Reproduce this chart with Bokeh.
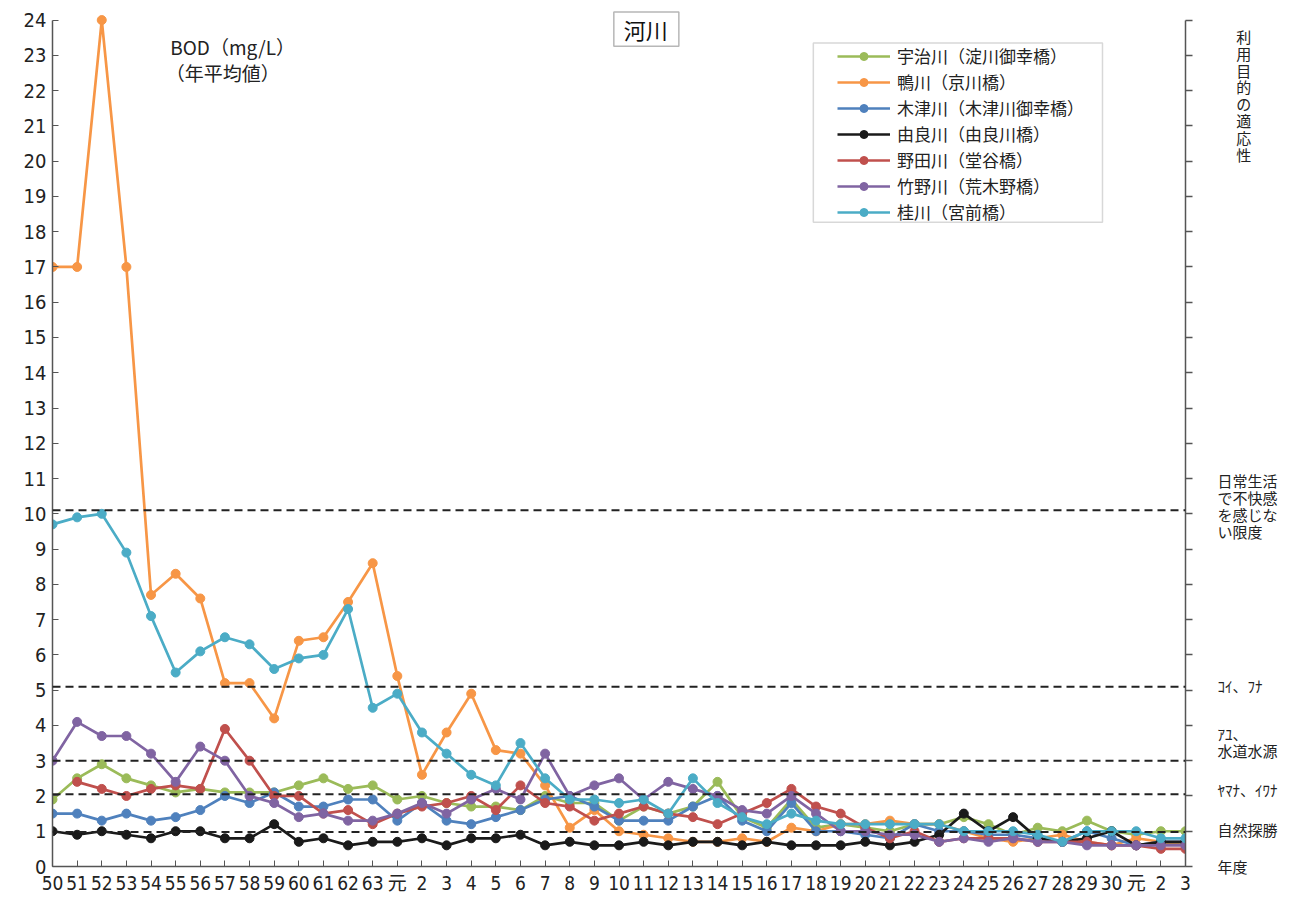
import math
from bokeh.plotting import figure
from bokeh.models import (Range1d, FixedTicker, LinearAxis, Span, Label,
                          BoxAnnotation)
from bokeh.embed import file_html
from bokeh.resources import INLINE

# ---- data ----
years = ([str(y) for y in range(50, 64)] + ["元"] +
         [str(y) for y in range(2, 31)] + ["元", "2", "3"])

uji = [1.9, 2.5, 2.9, 2.5, 2.3, 2.1, 2.2, 2.1, 2.1, 2.1, 2.3, 2.5, 2.2, 2.3,
       1.9,
       2.0, 1.8, 1.7, 1.7, 1.6, 2.0, 1.8, 1.8, 1.3, 1.7, 1.5, 1.7, 2.4, 1.4, 1.1,
       1.9, 1.1, 1.2, 1.1, 1.0, 1.2, 1.2, 1.4, 1.2, 0.9, 1.1, 1.0, 1.3, 1.0,
       0.9, 1.0, 1.0]
kamo = [17, 17, 24, 17, 7.7, 8.3, 7.6, 5.2, 5.2, 4.2, 6.4, 6.5, 7.5, 8.6,
        5.4,
        2.6, 3.8, 4.9, 3.3, 3.2, 2.3, 1.1, 1.6, 1.0, 0.9, 0.8, 0.7, 0.7, 0.8, 0.7,
        1.1, 1.0, 1.2, 1.2, 1.3, 1.2, 1.2, 1.0, 0.8, 0.7, 0.8, 0.9, 0.7, 0.6,
        0.8, 0.7, 0.6]
kizu = [1.5, 1.5, 1.3, 1.5, 1.3, 1.4, 1.6, 2.0, 1.8, 2.1, 1.7, 1.7, 1.9, 1.9,
        1.3,
        1.8, 1.3, 1.2, 1.4, 1.6, 1.9, 2.0, 1.7, 1.3, 1.3, 1.3, 1.7, 2.0, 1.3, 1.0,
        1.8, 1.0, 1.0, 0.9, 0.8, 1.2, 1.0, 1.0, 0.9, 0.9, 0.8, 0.7, 1.0, 0.8,
        0.6, 0.7, 0.7]
yura = [1.0, 0.9, 1.0, 0.9, 0.8, 1.0, 1.0, 0.8, 0.8, 1.2, 0.7, 0.8, 0.6, 0.7,
        0.7,
        0.8, 0.6, 0.8, 0.8, 0.9, 0.6, 0.7, 0.6, 0.6, 0.7, 0.6, 0.7, 0.7, 0.6, 0.7,
        0.6, 0.6, 0.6, 0.7, 0.6, 0.7, 0.9, 1.5, 1.0, 1.4, 0.8, 0.7, 0.8, 1.0,
        0.6, 0.7, 0.7]
noda = [math.nan, 2.4, 2.2, 2.0, 2.2, 2.3, 2.2, 3.9, 3.0, 2.0, 2.0, 1.5, 1.6, 1.2,
        1.5,
        1.7, 1.8, 2.0, 1.6, 2.3, 1.8, 1.7, 1.3, 1.5, 1.7, 1.5, 1.4, 1.2, 1.5, 1.8,
        2.2, 1.7, 1.5, 1.1, 0.8, 1.0, 0.7, 0.8, 0.8, 0.8, 0.7, 0.7, 0.7, 0.6,
        0.6, 0.5, 0.5]
takeno = [3.0, 4.1, 3.7, 3.7, 3.2, 2.4, 3.4, 3.0, 2.0, 1.8, 1.4, 1.5, 1.3, 1.3,
          1.5,
          1.8, 1.5, 1.9, 2.2, 1.9, 3.2, 2.0, 2.3, 2.5, 1.9, 2.4, 2.2, 2.0, 1.6, 1.5,
          2.0, 1.5, 1.0, 1.0, 0.9, 0.9, 0.7, 0.8, 0.7, 0.8, 0.7, 0.7, 0.6, 0.6,
          0.6, 0.6, 0.6]
katsura = [9.7, 9.9, 10.0, 8.9, 7.1, 5.5, 6.1, 6.5, 6.3, 5.6, 5.9, 6.0, 7.3, 4.5,
           4.9,
           3.8, 3.2, 2.6, 2.3, 3.5, 2.5, 1.9, 1.9, 1.8, 1.9, 1.5, 2.5, 1.8, 1.4, 1.2,
           1.5, 1.3, 1.2, 1.2, 1.2, 1.2, 1.2, 1.0, 1.0, 1.0, 0.9, 0.7, 1.0, 1.0,
           1.0, 0.8, 0.8]

series_names = ["宇治川（淀川御幸橋）", "鴨川（京川橋）", "木津川（木津川御幸橋）",
                "由良川（由良川橋）", "野田川（堂谷橋）", "竹野川（荒木野橋）",
                "桂川（宮前橋）"]
series_values = [uji, kamo, kizu, yura, noda, takeno, katsura]
series_colors = ["#9BBB59", "#F79646", "#4F81BD", "#1A1A1A", "#C0504D",
                 "#8064A2", "#4BACC6"]

guide_levels = [10.1, 5.1, 3.0, 2.05, 0.98]

side_title = "利用目的の適応性"
side_texts = ["日常生活\nで不快感\nを感じな\nい限度", "ｺｲ、ﾌﾅ", "ｱﾕ、\n水道水源",
              "ﾔﾏﾅ、ｲﾜﾅ", "自然探勝", "年度"]
side_levels = [10.22, 5.13, 3.53, 2.18, 1.05, 0.0]
side_title_level = 21.87

x = list(range(len(years)))

CJK = "Noto Sans CJK JP"
NUM = ("Liberation Sans Narrow, DejaVu Sans Condensed, Roboto Condensed, "
       "Roboto, Noto Sans CJK JP")

p = figure(width=1280, height=902, x_range=Range1d(0, 46),
           y_range=Range1d(0, 24.3),
           output_backend="svg", toolbar_location=None,
           min_border_left=52, min_border_right=92, min_border_top=9,
           min_border_bottom=36)
p.outline_line_color = None
p.grid.visible = False
p.background_fill_color = "white"

# axes
xa = p.xaxis[0]
xa.ticker = FixedTicker(ticks=x)
xa.major_label_overrides = {i: lab for i, lab in enumerate(years)}
xa.major_tick_in = 6
xa.major_tick_out = 0
xa.minor_tick_line_color = None
xa.axis_line_color = "#555555"
xa.axis_line_width = 1.5
xa.major_tick_line_color = "#555555"
xa.major_label_text_font = NUM
xa.major_label_text_font_size = "19px"
xa.major_label_text_color = "#222222"
xa.major_label_standoff = 5

ya = p.yaxis[0]
ya.ticker = FixedTicker(ticks=list(range(25)))
ya.bounds = (0, 24)
ya.major_tick_in = 6
ya.major_tick_out = 0
ya.minor_tick_line_color = None
ya.axis_line_color = "#555555"
ya.axis_line_width = 1.5
ya.major_tick_line_color = "#555555"
ya.major_label_text_font = NUM
ya.major_label_text_font_size = "20px"
ya.major_label_text_color = "#222222"
ya.major_label_standoff = 6

# right axis: integer tick marks (minor) + usage-level texts (major labels)
right_ticks = [side_title_level] + side_levels
right_labels = {side_title_level: "\n".join("\u3000\u2005" + c for c in side_title)}
for t, lv in zip(side_texts, side_levels):
    right_labels[lv] = t
ra = LinearAxis(ticker=FixedTicker(ticks=right_ticks, minor_ticks=list(range(25))),
                bounds=(0, 24),
                major_label_overrides=right_labels,
                major_tick_in=0, major_tick_out=0, major_tick_line_color=None,
                minor_tick_in=0, minor_tick_out=7,
                minor_tick_line_color="#555555", minor_tick_line_width=1.5,
                axis_line_color="#555555", axis_line_width=1.5,
                major_label_standoff=25, major_label_text_font=CJK,
                major_label_text_font_size="15px",
                major_label_text_line_height=0.8,
                major_label_text_color="#222222")
p.add_layout(ra, "right")

# guide dashed lines
for lv in guide_levels:
    p.add_layout(Span(location=lv, dimension="width", line_color="#222222",
                      line_width=2, line_dash="8 5"))

# series
for name, vals, col in zip(series_names, series_values, series_colors):
    p.line(x, vals, line_color=col, line_width=2.7, legend_label=name)
    p.scatter(x, vals, size=9, fill_color=col, line_color=col,
              legend_label=name)

lg = p.legend[0]
lg.location = (783, 640)
lg.border_line_alpha = 0
lg.background_fill_alpha = 0
lg.padding = 2
lg.margin = 0
lg.spacing = 1
lg.glyph_width = 53
lg.glyph_height = 20
lg.label_height = 25
lg.label_standoff = 7
lg.label_text_font = CJK
lg.label_text_font_size = "17px"
lg.label_text_color = "#222222"

p.add_layout(BoxAnnotation(left=30.89, right=42.63, bottom=18.27, top=23.35,
                           fill_alpha=0, line_color="#7f7f7f", line_width=1.5))

# title box
p.add_layout(BoxAnnotation(left=22.79, right=25.43, bottom=23.26, top=24.23,
                           fill_color="white", fill_alpha=1,
                           line_color="#111111", line_width=1.5))
p.add_layout(Label(x=24.09, y=23.74, text="河川", text_align="center",
                   text_baseline="middle", text_font=CJK,
                   text_font_size="22px", text_color="#111111"))

p.add_layout(Label(x=4.78, y=23.26, text="BOD（mg/L）", text_align="left",
                   text_baseline="middle", text_font=CJK,
                   text_font_size="19px", text_color="#222222"))
p.add_layout(Label(x=4.6, y=22.52, text="（年平均値）", text_align="left",
                   text_baseline="middle", text_font=CJK,
                   text_font_size="19px", text_color="#222222"))

open("out.html", "w").write(file_html(p, INLINE))
